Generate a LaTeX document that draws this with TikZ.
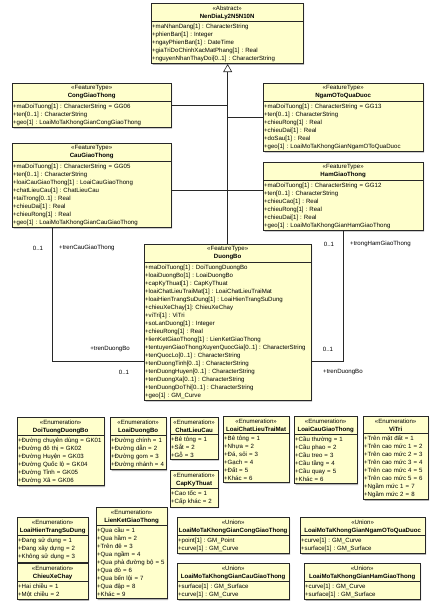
\documentclass[tikz,border=0pt]{standalone}
\usepackage{fontspec}
\setmainfont{Liberation Sans}
\usetikzlibrary{shapes.multipart,shadows,arrows.meta}
\definecolor{umlfill}{RGB}{255,255,204}
\definecolor{umlline}{RGB}{40,40,40}
\newcommand{\umlhead}[2]{\makebox[\hsize]{«#1»}\\\makebox[\hsize]{\textbf{#2}}}

\begin{document}
\begin{tikzpicture}[x=1bp,y=-1bp,
		every node/.style={font=\fontsize{6.12}{8.03}\selectfont\frenchspacing, execute at begin node={\lineskiplimit=-5pt}},
		umlbox/.style={rectangle split, rectangle split parts=2, draw=umlline, fill=umlfill,
			line width=0.7bp, anchor=north west, align=left, inner xsep=0.8bp, inner ysep=1.9bp,
			drop shadow={shadow xshift=1.2bp, shadow yshift=-1.2bp, fill=black!60}},
		lbl/.style={inner sep=0pt}]
			\useasboundingbox (0,0) rectangle (433,606);
			% abstract class
			\node[umlbox, text width=150bp] (nendialy) at (151,3) {\umlhead{Abstract}{NenDiaLy2N5N10N}
				\nodepart{two}+maNhanDang[1] : CharacterString\\+phienBan[1] : Integer\\+ngayPhienBan[1] : DateTime\\+giaTriDoChinhXacMatPhang[1] : Real\\+nguyenNhanThayDoi[0..1] : CharacterString};
			% feature types
			\node[umlbox, text width=157bp] (cong) at (12,83) {\umlhead{FeatureType}{CongGiaoThong}
				\nodepart{two}+maDoiTuong[1] : CharacterString = GG06\\+ten[0..1] : CharacterString\\+geo[1] : LoaiMoTaKhongGianCongGiaoThong};
			\node[umlbox, text width=158bp] (ngam) at (263,83) {\umlhead{FeatureType}{NgamOToQuaDuoc}
				\nodepart{two}+maDoiTuong[1] : CharacterString = GG13\\+ten[0..1] : CharacterString\\+chieuRong[1] : Real\\+chieuDai[1] : Real\\+doSau[1] : Real\\+geo[1] : LoaiMoTaKhongGianNgamOToQuaDuoc};
			\node[umlbox, text width=157bp] (cau) at (12,143) {\umlhead{FeatureType}{CauGiaoThong}
				\nodepart{two}+maDoiTuong[1] : CharacterString = GG05\\+ten[0..1] : CharacterString\\+loaiCauGiaoThong[1] : LoaiCauGiaoThong\\+chatLieuCau[1] : ChatLieuCau\\+taiTrong[0..1] : Real\\+chieuDai[1] : Real\\+chieuRong[1] : Real\\+geo[1] : LoaiMoTaKhongGianCauGiaoThong};
			\node[umlbox, text width=158bp] (ham) at (263,162) {\umlhead{FeatureType}{HamGiaoThong}
				\nodepart{two}+maDoiTuong[1] : CharacterString = GG12\\+ten[0..1] : CharacterString\\+chieuCao[1] : Real\\+chieuRong[1] : Real\\+chieuDai[1] : Real\\+geo[1] : LoaiMoTaKhongGianHamGiaoThong};
			\node[umlbox, text width=165bp] (duongbo) at (144,244) {\umlhead{FeatureType}{DuongBo}
				\nodepart{two}+maDoiTuong[1] : DoiTuongDuongBo\\+loaiDuongBo[1] : LoaiDuongBo\\+capKyThuat[1] : CapKyThuat\\+loaiChatLieuTraiMat[1] : LoaiChatLieuTraiMat\\+loaiHienTrangSuDung[1] : LoaiHienTrangSuDung\\+chieuXeChay[1]: ChieuXeChay\\+viTri[1] : ViTri\\+soLanDuong[1] : Integer\\+chieuRong[1] : Real\\+lienKetGiaoThong[1] : LienKetGiaoThong\\+tentuyenGiaoThongXuyenQuocGia[0..1] : CharacterString\\+tenQuocLo[0..1] : CharacterString\\+tenDuongTinh[0..1] : CharacterString\\+tenDuongHuyen[0..1] : CharacterString\\+tenDuongXa[0..1] : CharacterString\\+tenDuongDoThi[0..1] : CharacterString\\+geo[1] : GM\_Curve};
			% generalization
			\draw[umlline, line width=0.6bp, -{Triangle[open, length=8bp, width=9bp]}] (duongbo.north) -- (duongbo.north |- nendialy.south);
			\draw[umlline, line width=0.6bp] (cong.east) -- (cong.east -| duongbo.north)
				(ngam.west) -- (ngam.west -| duongbo.north)
				([yshift=-5bp]cau.east) -- ([yshift=-5bp]cau.east -| ham.west);
			% associations
			\draw[umlline, line width=0.6bp] ([xshift=-39.5bp]cau.south) |- ([yshift=-38.5bp]duongbo.west)
				(ham.south) |- ([yshift=-38.5bp]duongbo.east);
			\node[lbl] (m1) at (38,248) {0..1};
			\node[lbl, anchor=west] (r1) at (59,248) {+trenCauGiaoThong};
			\node[lbl, anchor=east] (r2) at (130,349) {+trenDuongBo};
			\node[lbl] (m2) at (124,372) {0..1};
			\node[lbl] (m3) at (329,244) {0..1};
			\node[lbl, anchor=west] (r3) at (350,244) {+trongHamGiaoThong};
			\node[lbl] (m4) at (328,349) {0..1};
			\node[lbl, anchor=west] (r4) at (323,372) {+trenDuongBo};
			% enumerations
			\node[umlbox, text width=85bp] (doituong) at (17,417) {\umlhead{Enumeration}{DoiTuongDuongBo}
				\nodepart{two}+Đường chuyên dùng = GK01\\+Đường đô thị = GK02\\+Đường Huyện = GK03\\+Đường Quốc lộ = GK04\\+Đường Tỉnh = GK05\\+Đường Xã = GK06};
			\node[umlbox, text width=54bp] (loaiduongbo) at (110,417) {\umlhead{Enumeration}{LoaiDuongBo}
				\nodepart{two}+Đường chính = 1\\+Đường dẫn = 2\\+Đường gom = 3\\+Đường nhánh = 4};
			\node[umlbox, text width=46bp] (chatlieucau) at (170,417) {\umlhead{Enumeration}{ChatLieuCau}
				\nodepart{two}+Bê tông = 1\\+Sắt = 2\\+Gỗ = 3};
			\node[umlbox, text width=46bp] (capkythuat) at (170,470) {\umlhead{Enumeration}{CapKyThuat}
				\nodepart{two}+Cao tốc = 1\\+Cấp khác = 2};
			\node[umlbox, text width=64bp] (loaichatlieu) at (223,416) {\umlhead{Enumeration}{LoaiChatLieuTraiMat}
				\nodepart{two}+Bê tông = 1\\+Nhựa = 2\\+Đá, sỏi = 3\\+Gạch = 4\\+Đất = 5\\+Khác = 6};
			\node[umlbox, text width=61bp] (loaicau) at (294,416) {\umlhead{Enumeration}{LoaiCauGiaoThong}
				\nodepart{two}+Cầu thường = 1\\+Cầu phao = 2\\+Cầu treo = 3\\+Cầu tầng = 4\\+Cầu quay = 5\\+Khác = 6};
			\node[umlbox, text width=63bp] (vitri) at (363,416) {\umlhead{Enumeration}{ViTri}
				\nodepart{two}+Trên mặt đất = 1\\+Trên cao mức 1 = 2\\+Trên cao mức 2 = 3\\+Trên cao mức 3 = 4\\+Trên cao mức 4 = 5\\+Trên cao mức 5 = 6\\+Ngầm mức 1 = 7\\+Ngầm mức 2 = 8};
			\node[umlbox, text width=69bp] (hientrang) at (17,517) {\umlhead{Enumeration}{LoaiHienTrangSuDung}
				\nodepart{two}+Đang sử dụng = 1\\+Đang xây dựng = 2\\+Không sử dụng = 3};
			\node[umlbox, text width=69bp] (chieuxe) at (17,563) {\umlhead{Enumeration}{ChieuXeChay}
				\nodepart{two}+Hai chiều = 1\\+Một chiều = 2};
			\node[umlbox, text width=69bp] (lienket) at (96,507) {\umlhead{Enumeration}{LienKetGiaoThong}
				\nodepart{two}+Qua cầu = 1\\+Qua hầm = 2\\+Trên đê = 3\\+Qua ngầm = 4\\+Qua phà đường bộ = 5\\+Qua đò = 6\\+Qua bến lội = 7\\+Qua đập = 8\\+Khác = 9};
			% unions
			\node[umlbox, text width=110bp] (mtcong) at (177,517) {\umlhead{Union}{LoaiMoTaKhongGianCongGiaoThong}
				\nodepart{two}+point[1] : GM\_Point\\+curve[1] : GM\_Curve};
			\node[umlbox, text width=110bp] (mtcau) at (177,563) {\umlhead{Union}{LoaiMoTaKhongGianCauGiaoThong}
				\nodepart{two}+surface[1] : GM\_Surface\\+curve[1] : GM\_Curve};
			\node[umlbox, text width=123bp] (mtngam) at (300,517) {\umlhead{Union}{LoaiMoTaKhongGianNgamOToQuaDuoc}
				\nodepart{two}+curve[1] : GM\_Curve\\+surface[1] : GM\_Surface};
			\node[umlbox, text width=114bp] (mtham) at (304,563) {\umlhead{Union}{LoaiMoTaKhongGianHamGiaoThong}
				\nodepart{two}+curve[1] : GM\_Curve\\+surface[1] : GM\_Surface};
		\end{tikzpicture}
\end{document}
